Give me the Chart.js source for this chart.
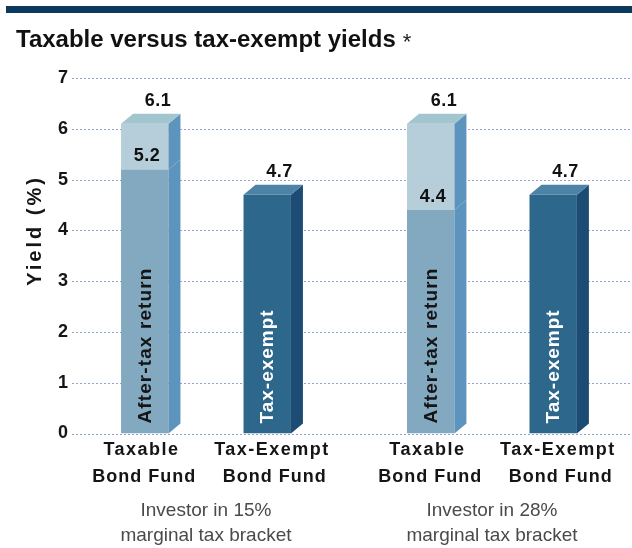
<!DOCTYPE html>
<html><head><meta charset="utf-8">
<script src="https://cdn.jsdelivr.net/npm/chart.js@4.4.1/dist/chart.umd.min.js"></script>
<style>html,body{margin:0;padding:0;overflow:hidden;background:#fff;width:632px;height:548px}canvas{display:block}</style>
</head><body>
<canvas id="c" width="642" height="548"></canvas>
<script>
// ---- data ----
const titleText = 'Taxable versus tax-exempt yields';
const titleMark = '*';
const groupLabels = [['Investor in 15%', 'marginal tax bracket'], ['Investor in 28%', 'marginal tax bracket']];
const fundNames = [['Taxable', 'Bond Fund'], ['Tax-Exempt', 'Bond Fund']];
const taxableYield = [6.1, 6.1];
const afterTaxYield = [5.2, 4.4];
const taxExemptYield = [4.7, 4.7];
const yTicks = [0, 1, 2, 3, 4, 5, 6, 7];
const yAxisTitle = 'Yield (%)';
const barTexts = ['After-tax return', 'Tax-exempt'];

// ---- styling ----
const FAM = '"Liberation Sans", Arial, sans-serif';
const canvas = document.getElementById('c');
const C = {
  lowFront: '#82a9bf',
  upFront: '#b5ced9',
  taxSide: '#5d94bd',
  taxTop: '#a2c5d0',
  exFront: '#2d678b',
  exSide: '#1c4b74',
  exTop: '#4d83a6'
};
const DX = 12, DY = 10;

function spacedText(c, text, x, y, font, color, spacing, align) {
  c.save();
  c.font = font; c.fillStyle = color;
  c.letterSpacing = spacing + 'px';
  c.textAlign = align || 'center';
  c.textBaseline = 'middle';
  const off = (align === 'left') ? 0 : (align === 'right' ? spacing : spacing / 2);
  c.fillText(text, x + off, y);
  c.restore();
}

const deco = {
  id: 'deco',
  beforeDraw(chart) {
    const c = chart.ctx;
    c.save();
    c.fillStyle = '#0b3a5c';
    c.fillRect(6, 6, chart.width, 7);
    c.restore();
  },
  beforeDatasetsDraw(chart) {
    const c = chart.ctx, y = chart.scales.y;
    c.save();
    c.lineWidth = 1;
    c.setLineDash([2, 2]);
    c.strokeStyle = '#8ea3cf';
    y.ticks.forEach(t => {
      const py = Math.round(y.getPixelForValue(t.value)) + 0.5;
      c.beginPath(); c.moveTo(72, py); c.lineTo(chart.width, py); c.stroke();
    });
    c.restore();
  },
  afterDatasetsDraw(chart) {
    const c = chart.ctx;
    const poly = (pts, fill) => {
      c.beginPath(); c.moveTo(pts[0][0], pts[0][1]);
      for (let k = 1; k < pts.length; k++) c.lineTo(pts[k][0], pts[k][1]);
      c.closePath(); c.fillStyle = fill; c.fill();
    };
    chart.data.datasets.forEach((ds, i) => {
      chart.getDatasetMeta(i).data.forEach(b => {
        const p = b.getProps(['x', 'y', 'base', 'width'], true);
        const L = p.x - p.width / 2, R = p.x + p.width / 2, T = p.y, B = p.base;
        poly([[R, T], [R + DX, T - DY], [R + DX, B - DY], [R, B]], ds.sideColor);
        if (ds.topColor) poly([[L, T], [L + DX, T - DY], [R + DX, T - DY], [R, T]], ds.topColor);
      });
    });
    const bold = s => 'bold ' + s + 'px ' + FAM;
    const ca = chart.chartArea;
    chart.data.datasets.forEach((ds, i) => {
      chart.getDatasetMeta(i).data.forEach((b, j) => {
        const p = b.getProps(['x', 'y', 'base', 'width'], true);
        if (ds.role === 'after') {
          spacedText(c, afterTaxYield[j].toFixed(1), p.x + 2, p.y - 13, bold(18), '#111', 0.5);
        }
        if (ds.role === 'tax') {
          spacedText(c, taxableYield[j].toFixed(1), p.x + 13, p.y - 23, bold(18), '#111', 0.5);
        }
        if (ds.role === 'exempt') {
          spacedText(c, taxExemptYield[j].toFixed(1), p.x + 12, p.y - 23, bold(18), '#111', 0.5);
        }
        if (ds.role === 'after' || ds.role === 'exempt') {
          const k = ds.role === 'after' ? 0 : 1;
          c.save();
          c.translate(p.x + 1, p.base - 10);
          c.rotate(-Math.PI / 2);
          spacedText(c, barTexts[k], 0, 0, bold(19), k === 0 ? '#151515' : '#ffffff', k === 0 ? 1.1 : 1, 'left');
          c.restore();
          spacedText(c, fundNames[k][0], p.x + (k === 0 ? -4 : 4), ca.bottom + 16.5, bold(18), '#151515', 1.5);
          spacedText(c, fundNames[k][1], p.x + (k === 0 ? -1 : 7), ca.bottom + 43.5, bold(18), '#151515', 1);
        }
      });
    });
    // y axis title
    c.save();
    c.translate(35, ca.top + 154);
    c.rotate(-Math.PI / 2);
    spacedText(c, yAxisTitle, 0, 0, bold(20), '#151515', 3);
    c.restore();
  },
  afterDraw(chart) {
    const c = chart.ctx;
    c.save();
    c.font = 'bold 24px ' + FAM;
    const w = c.measureText(titleText).width;
    c.font = '22px ' + FAM;
    c.fillStyle = '#222';
    c.textBaseline = 'alphabetic';
    c.textAlign = 'left';
    c.fillText(titleMark, 16 + w + 7, 49);
    c.restore();
  }
};

new Chart(canvas, {
  type: 'bar',
  data: {
    labels: groupLabels,
    datasets: [
      { label: 'After-tax return', role: 'after', stack: 'taxable', data: afterTaxYield,
        backgroundColor: C.lowFront, sideColor: C.taxSide },
      { label: 'Taxes', role: 'tax', stack: 'taxable', data: taxableYield.map((v, i) => v - afterTaxYield[i]),
        backgroundColor: C.upFront, sideColor: C.taxSide, topColor: C.taxTop },
      { label: 'Tax-exempt', role: 'exempt', stack: 'exempt', data: taxExemptYield,
        backgroundColor: C.exFront, sideColor: C.exSide, topColor: C.exTop }
    ]
  },
  options: {
    responsive: false,
    animation: false,
    devicePixelRatio: 1,
    layout: { padding: { left: 16, right: 0, top: 0, bottom: 0 } },
    datasets: { bar: { categoryPercentage: 0.8566, barPercentage: 0.387, borderWidth: 0 } },
    plugins: {
      legend: { display: false },
      tooltip: { enabled: false },
      title: {
        display: true, text: titleText, align: 'start', color: '#111',
        font: { family: FAM, size: 24, weight: 'bold', lineHeight: 1.2 },
        padding: { top: 26, bottom: 23.2 }
      }
    },
    scales: {
      x: {
        stacked: true,
        afterFit: s => { s.height = 114.5; },
        grid: { display: false, drawTicks: false }, border: { display: false },
        ticks: {
          color: '#4a4a4a', maxRotation: 0, autoSkip: false, padding: 64.5,
          font: { family: FAM, size: 19, weight: 'normal', lineHeight: 25 / 19 }
        }
      },
      y: {
        stacked: true, min: 0, max: 7,
        afterBuildTicks: s => { s.ticks = yTicks.map(v => ({ value: v })); },
        afterFit: s => { s.width = 47; },
        grid: { display: false, drawTicks: false }, border: { display: false },
        title: { display: false },
        ticks: {
          color: '#151515', mirror: true, crossAlign: 'near', padding: -5,
          font: { family: FAM, size: 18, weight: 'bold' }
        }
      }
    }
  },
  plugins: [deco]
});
</script>
</body></html>
